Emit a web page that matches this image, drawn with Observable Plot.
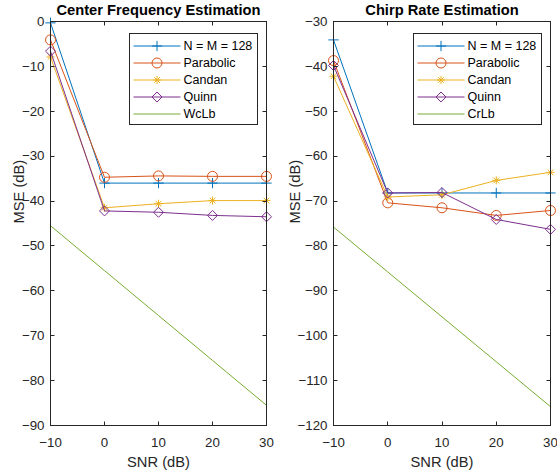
<!DOCTYPE html>
<html><head><meta charset="utf-8">
<script src="https://cdn.jsdelivr.net/npm/d3@7"></script>
<script src="https://cdn.jsdelivr.net/npm/@observablehq/plot@0.6"></script>
<style>
html,body{margin:0;padding:0;background:#fff;}
#wrap{position:relative;width:557px;height:475px;overflow:hidden;font-family:"Liberation Sans",Arial,sans-serif;}
#left,#right{position:absolute;top:0;}
#left{left:0}
#right{left:278px}
</style></head><body><div id="wrap"><div id="left"></div><div id="right"></div></div>
<script>
// ---- data ----
const snr = [-10, 0, 10, 20, 30];
const xTicks = [-10, 0, 10, 20, 30];

const cfTitle = "Center Frequency Estimation";
const cfYTicks = [0, -10, -20, -30, -40, -50, -60, -70, -80, -90];
const cfNM = [-0.3, -36.0, -36.0, -36.0, -36.0];
const cfParabolic = [-4.1, -34.7, -34.4, -34.5, -34.5];
const cfCandan = [-7.9, -41.5, -40.6, -39.9, -39.9];
const cfQuinn = [-6.6, -42.2, -42.5, -43.2, -43.5];
const cfWcLb = [-45.5, -55.5, -65.5, -75.5, -85.5];

const crTitle = "Chirp Rate Estimation";
const crYTicks = [-30, -40, -50, -60, -70, -80, -90, -100, -110, -120];
const crNM = [-34.1, -68.2, -68.2, -68.2, -68.2];
const crParabolic = [-38.7, -70.4, -71.5, -73.2, -72.1];
const crCandan = [-42.2, -69.1, -68.6, -65.4, -63.6];
const crQuinn = [-39.8, -68.2, -68.1, -74.1, -76.3];
const crCrLb = [-75.8, -85.8, -95.8, -105.8, -115.8];

const seriesNames = ["N = M = 128", "Parabolic", "Candan", "Quinn"];
const colors = ["#0072BD", "#D95319", "#EDB120", "#7E2F8E", "#77AC30"];
const symbolSets = [
  [{symbol: "plus", r: 3.4}],
  [{symbol: "circle", r: 5}],
  [{symbol: "plus", r: 2.7}, {symbol: "times", r: 2.7}],
  [{symbol: "diamond2", r: 4.5}],
  []
];

const FONT = '"Liberation Sans", Arial, sans-serif';
const AX = "#262626";
const TICK_LEN = 4;

function panel({title, yDomain, yTicks, values, names, width, marginLeft, marginRight, ylabelDx}) {
  const marginTop = 21, marginBottom = 50, height = 475;
  const xDomain = [xTicks[0], xTicks[xTicks.length - 1]];
  const marks = [];
  values.forEach((vals, k) => {
    const data = snr.map((x, i) => ({snr: x, mse: vals[i]}));
    marks.push(Plot.line(data, {x: "snr", y: "mse", stroke: colors[k], strokeWidth: 1}));
    for (const s of symbolSets[k]) {
      marks.push(Plot.dot(data, {x: "snr", y: "mse", symbol: s.symbol, r: s.r, stroke: colors[k], fill: "none", strokeWidth: 1}));
    }
  });
  marks.push(
    Plot.frame({stroke: AX, strokeWidth: 1}),
    Plot.axisX(xTicks, {anchor: "bottom", tickSize: 0, tickPadding: 12, fill: AX, fontSize: 13.3, label: null}),
    Plot.axisY(yTicks, {anchor: "left", tickSize: 0, tickPadding: 6, fill: AX, fontSize: 13.3, label: null}),
    Plot.text([title], {frameAnchor: "top", dy: -11, lineAnchor: "middle", fontWeight: "bold", fontSize: 14.7, fill: "#000"}),
    Plot.text(["SNR (dB)"], {frameAnchor: "bottom", dy: 37, lineAnchor: "middle", fontSize: 14.7, fill: AX}),
    Plot.text(["MSE (dB)"], {frameAnchor: "left", dx: ylabelDx, rotate: -90, lineAnchor: "middle", fontSize: 14.7, fill: AX})
  );
  const svg = Plot.plot({
    width, height, marginTop, marginBottom, marginLeft, marginRight,
    style: {fontFamily: FONT, background: "white", overflow: "visible"},
    x: {domain: xDomain, label: null},
    y: {domain: yDomain, label: null},
    marks
  });
  // inward ticks on all four sides, placed with Plot's own scales
  const xs = svg.scale("x"), ys = svg.scale("y");
  const L = marginLeft, R = width - marginRight, T = marginTop, B = height - marginBottom;
  const tg = d3.select(svg).append("g").attr("stroke", AX).attr("stroke-width", 1);
  for (const v of xTicks) {
    const px = Math.round(xs.apply(v)) + 0.5;
    tg.append("line").attr("x1", px).attr("x2", px).attr("y1", B + 0.5).attr("y2", B + 0.5 - TICK_LEN);
    tg.append("line").attr("x1", px).attr("x2", px).attr("y1", T + 0.5).attr("y2", T + 0.5 + TICK_LEN);
  }
  for (const v of yTicks) {
    const py = Math.round(ys.apply(v)) + 0.5;
    tg.append("line").attr("x1", L + 0.5).attr("x2", L + 0.5 + TICK_LEN).attr("y1", py).attr("y2", py);
    tg.append("line").attr("x1", R + 0.5).attr("x2", R + 0.5 - TICK_LEN).attr("y1", py).attr("y2", py);
  }
  // legend
  const bw = 128, bh = 91;
  const bx = R - 9 - bw + 0.5, by = T + 12 + 0.5;
  const g = d3.select(svg).append("g").attr("font-family", FONT).attr("font-size", 12.5).attr("text-anchor", "start");
  g.append("rect").attr("x", bx).attr("y", by).attr("width", bw).attr("height", bh)
    .attr("fill", "white").attr("stroke", AX).attr("stroke-width", 1);
  const symMap = {plus: d3.symbolPlus, circle: d3.symbolCircle, times: d3.symbolTimes, diamond2: d3.symbolDiamond2};
  names.forEach((name, k) => {
    const cy = by + 12.5 + 17 * k;
    g.append("line").attr("x1", bx + 4).attr("x2", bx + 51).attr("y1", cy).attr("y2", cy)
      .attr("stroke", colors[k]).attr("stroke-width", 1);
    for (const s of symbolSets[k]) {
      g.append("path").attr("d", d3.symbol(symMap[s.symbol], Math.PI * s.r * s.r)())
        .attr("transform", `translate(${bx + 27.5},${cy})`)
        .attr("fill", "none").attr("stroke", colors[k]).attr("stroke-width", 1);
    }
    g.append("text").attr("x", bx + 54).attr("y", cy).attr("dy", "0.35em").attr("fill", "#000").text(name);
  });
  return svg;
}

document.getElementById("left").append(panel({
  title: cfTitle, yDomain: [-90, 0], yTicks: cfYTicks,
  values: [cfNM, cfParabolic, cfCandan, cfQuinn, cfWcLb],
  names: [...seriesNames, "WcLb"],
  width: 278, marginLeft: 50, marginRight: 12, ylabelDx: -31
}));
document.getElementById("right").append(panel({
  title: crTitle, yDomain: [-120, -30], yTicks: crYTicks,
  values: [crNM, crParabolic, crCandan, crQuinn, crCrLb],
  names: [...seriesNames, "CrLb"],
  width: 279, marginLeft: 55, marginRight: 7, ylabelDx: -38
}));
</script>
</body></html>
